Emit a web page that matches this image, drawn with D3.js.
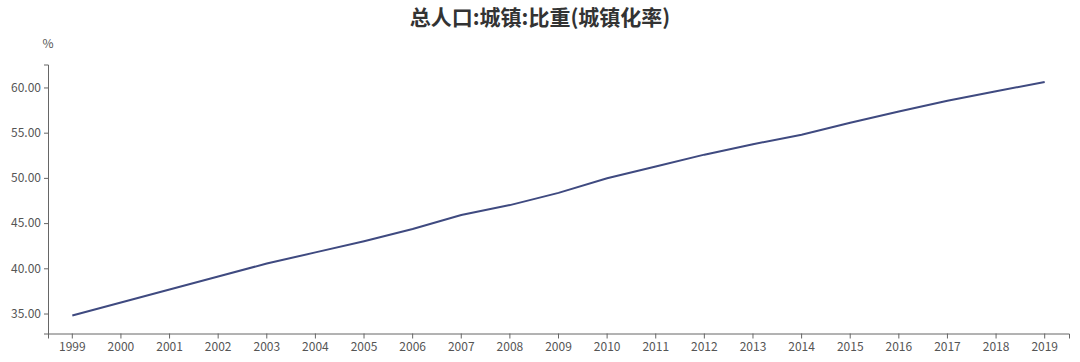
<!DOCTYPE html>
<html>
<head>
<meta charset="utf-8">
<script src="https://cdn.jsdelivr.net/npm/d3@7"></script>
<style>
  body { margin: 0; background: #fff; }
  text { font-family: "Noto Sans CJK SC", "Open Sans", sans-serif; }
</style>
</head>
<body>
<svg id="chart" width="1080" height="362"></svg>
<script>
// Urbanization rate, 1999-2019
const years = ["1999","2000","2001","2002","2003","2004","2005","2006","2007","2008",
  "2009","2010","2011","2012","2013","2014","2015","2016","2017","2018","2019"];
const rates = [34.78, 36.22, 37.66, 39.09, 40.53, 41.76, 42.99, 44.34, 45.89, 46.99,
  48.34, 49.95, 51.27, 52.57, 53.73, 54.77, 56.10, 57.35, 58.52, 59.58, 60.60];
const yTicks = [35, 40, 45, 50, 55, 60];

const width = 1080, height = 362;
const margin = {top: 64.5, right: 11, bottom: 28.5, left: 48};

const svg = d3.select("#chart");

const x = d3.scaleBand()
  .domain(years)
  .range([margin.left, width - margin.right]);

const y = d3.scaleLinear()
  .domain([32.79, 62.54])
  .range([height - margin.bottom, margin.top]);

const line = d3.line()
  .x((d, i) => x(years[i]) + x.bandwidth() / 2)
  .y(d => y(d));

// X axis
const xAxis = svg.append("g")
  .attr("transform", `translate(0,${height - margin.bottom})`)
  .call(d3.axisBottom(x).tickSizeOuter(0).tickSize(5).tickPadding(4));
xAxis.select(".domain").attr("stroke", "#666");
xAxis.selectAll(".tick line").attr("stroke", "#666");
xAxis.selectAll(".tick text").attr("fill", "#555").style("font-size", "12px");

// Y axis
const yAxis = svg.append("g")
  .attr("transform", `translate(${margin.left},0)`)
  .call(d3.axisLeft(y).tickValues(yTicks).tickFormat(d3.format(".2f"))
    .tickSizeOuter(0).tickSize(4).tickPadding(3));
yAxis.select(".domain").attr("stroke", "#666");
yAxis.selectAll(".tick line").attr("stroke", "#666");
yAxis.selectAll(".tick text").attr("fill", "#555").style("font-size", "12px");

// Line
svg.append("path")
  .datum(rates)
  .attr("fill", "none")
  .attr("stroke", "#3f4a80")
  .attr("stroke-width", 2)
  .attr("d", line);

// Unit label
svg.append("text")
  .attr("x", 48)
  .attr("y", 48)
  .attr("text-anchor", "middle")
  .attr("fill", "#555")
  .style("font-size", "12px")
  .text("%");

// Title
svg.append("text")
  .attr("x", width / 2)
  .attr("y", 25)
  .attr("text-anchor", "middle")
  .attr("fill", "#333")
  .style("font-size", "21px")
  .style("font-weight", "bold")
  .text("总人口:城镇:比重(城镇化率)");
</script>
</body>
</html>
